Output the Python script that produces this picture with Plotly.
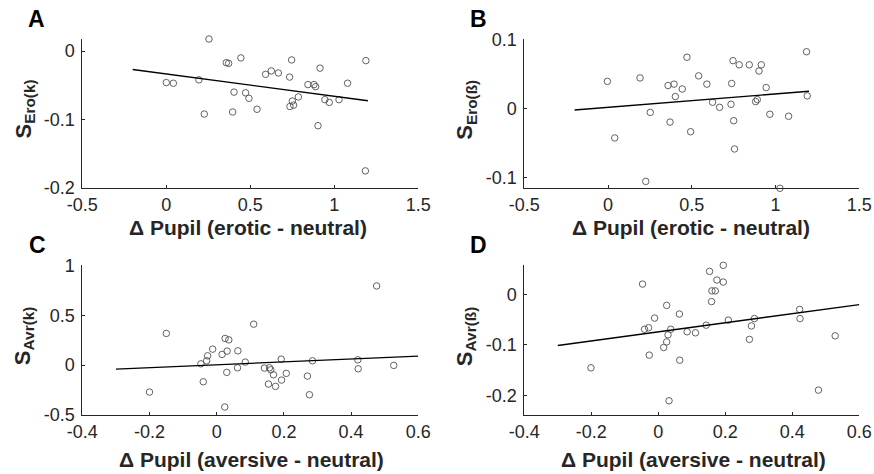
import plotly.graph_objects as go

W, H = 874, 474

# ---------------- data ----------------
a_x = [0.000, 0.042, 0.194, 0.226, 0.254, 0.357, 0.371, 0.395, 0.403, 0.444, 0.472, 0.492, 0.540,
       0.591, 0.625, 0.667, 0.734, 0.736, 0.746, 0.750, 0.758, 0.786, 0.843, 0.879, 0.889, 0.903,
       0.915, 0.944, 0.970, 1.028, 1.079, 1.185, 1.188]
a_y = [-0.046, -0.047, -0.042, -0.092, 0.0176, -0.017, -0.018, -0.089, -0.060, -0.010, -0.061, -0.069,
       -0.085, -0.034, -0.029, -0.032, -0.038, -0.081, -0.013, -0.073, -0.079, -0.067, -0.049, -0.049,
       -0.052, -0.109, -0.025, -0.071, -0.075, -0.071, -0.047, -0.175, -0.014]

b_x = [-0.004, 0.040, 0.191, 0.225, 0.252, 0.358, 0.370, 0.394, 0.402, 0.443, 0.471, 0.493, 0.541,
       0.590, 0.624, 0.666, 0.734, 0.738, 0.746, 0.750, 0.755, 0.783, 0.843, 0.881, 0.891, 0.901,
       0.915, 0.944, 0.966, 1.026, 1.078, 1.185, 1.189]
b_y = [0.039, -0.043, 0.044, -0.106, -0.006, 0.033, -0.020, 0.035, 0.017, 0.028, 0.074, -0.034, 0.047,
       0.035, 0.0087, 0.0014, 0.0058, 0.036, 0.069, -0.018, -0.059, 0.063, 0.063, 0.0097, 0.0126, 0.054,
       0.063, 0.030, -0.0087, -0.116, -0.0116, 0.082, 0.018]

c_x = [-0.200, -0.150, -0.047, -0.040, -0.030, -0.027, -0.012, 0.016, 0.025, 0.036, 0.031, 0.030,
       0.024, 0.063, 0.062, 0.085, 0.110, 0.142, 0.157, 0.161, 0.154, 0.169, 0.175, 0.193, 0.192,
       0.207, 0.270, 0.276, 0.285, 0.420, 0.421, 0.476, 0.527]
c_y = [-0.27, 0.317, 0.013, -0.167, 0.043, 0.093, 0.16, 0.107, 0.267, 0.253, 0.14, -0.073, -0.42,
       0.143, -0.027, 0.03, 0.41, -0.03, -0.027, -0.047, -0.19, -0.097, -0.213, -0.15, 0.06, -0.083,
       -0.11, -0.297, 0.043, 0.053, -0.037, 0.793, -0.003]

d_x = [-0.201, -0.150, -0.047, -0.041, -0.029, -0.027, -0.011, 0.016, 0.025, 0.025, 0.029, 0.032,
       0.037, 0.063, 0.064, 0.086, 0.111, 0.143, 0.153, 0.160, 0.170, 0.159, 0.175, 0.194, 0.194,
       0.209, 0.272, 0.278, 0.287, 0.422, 0.423, 0.478, 0.528]
d_y = [-0.145, -0.239, 0.020, -0.069, -0.066, -0.120, -0.047, -0.105, -0.022, -0.094, -0.080, -0.210,
       -0.069, -0.039, -0.130, -0.074, -0.076, -0.061, 0.045, 0.0066, 0.0066, -0.0145, 0.028, 0.057,
       0.024, -0.051, -0.089, -0.0625, -0.048, -0.030, -0.048, -0.189, -0.082]

# regression lines (end points)
a_fit_x = [-0.2, 1.2]
a_fit_y = [-0.027, -0.0725]
b_fit_x = [-0.2, 1.2]
b_fit_y = [-0.0024, 0.0246]
c_fit_x = [-0.3, 0.6]
c_fit_y = [-0.04, 0.09]
d_fit_x = [-0.3, 0.6]
d_fit_y = [-0.101, -0.0204]

# ticks
ero_xticks = [-0.5, 0, 0.5, 1, 1.5]
ero_xticklabels = ["-0.5", "0", "0.5", "1", "1.5"]
avr_xticks = [-0.4, -0.2, 0, 0.2, 0.4, 0.6]
avr_xticklabels = ["-0.4", "-0.2", "0", "0.2", "0.4", "0.6"]
a_yticks = [-0.2, -0.1, 0]
a_yticklabels = ["-0.2", "-0.1", "0"]
b_yticks = [-0.1, 0, 0.1]
b_yticklabels = ["-0.1", "0", "0.1"]
c_yticks = [-0.5, 0, 0.5, 1]
c_yticklabels = ["-0.5", "0", "0.5", "1"]
d_yticks = [-0.2, -0.1, 0]
d_yticklabels = ["-0.2", "-0.1", "0"]

ero_xlabel = "Δ Pupil (erotic - neutral)"
avr_xlabel = "Δ Pupil (aversive - neutral)"
ylabels = ["Ero(k)", "Ero(ß)", "Avr(k)", "Avr(ß)"]
letters = ["A", "B", "C", "D"]

# ---------------- layout helpers ----------------
def fx(px):
    return px / W

def fy(py):
    return 1 - py / H

FONT = "Liberation Sans, Arial, sans-serif"
AX_COL = "#262626"

# pixel boxes: (left, right, top, bottom)
boxes = [
    (82.3, 418.3, 39.0, 188.0),
    (524.3, 859.3, 39.3, 188.3),
    (82.3, 418.3, 265.3, 415.0),
    (524.3, 859.3, 265.3, 415.0),
]

panels = [
    (a_x, a_y, a_fit_x, a_fit_y, [-0.5, 1.5], [-0.2, 0.0176], ero_xticks, ero_xticklabels, a_yticks, a_yticklabels, ero_xlabel),
    (b_x, b_y, b_fit_x, b_fit_y, [-0.5, 1.5], [-0.116, 0.1], ero_xticks, ero_xticklabels, b_yticks, b_yticklabels, ero_xlabel),
    (c_x, c_y, c_fit_x, c_fit_y, [-0.4, 0.6], [-0.5, 1.0], avr_xticks, avr_xticklabels, c_yticks, c_yticklabels, avr_xlabel),
    (d_x, d_y, d_fit_x, d_fit_y, [-0.4, 0.6], [-0.238, 0.057], avr_xticks, avr_xticklabels, d_yticks, d_yticklabels, avr_xlabel),
]

fig = go.Figure()
layout = dict(
    width=W, height=H,
    margin=dict(l=0, r=0, t=0, b=0, pad=0),
    paper_bgcolor="white", plot_bgcolor="white",
    showlegend=False,
    font=dict(family=FONT, color=AX_COL),
)
annotations = []

letter_pos = [(36.5, 18.5), (478.5, 19.0), (37.0, 245.0), (478.5, 245.0)]
xlabel_pos = [(248.0, 227.0), (691.0, 227.0), (251.5, 459.0), (693.0, 459.0)]
ylabel_x = [24.0, 466.0, 24.0, 466.0]

for i, (px, py, fxs, fys, xr, yr, xt, xtl, yt, ytl, xlab) in enumerate(panels):
    n = "" if i == 0 else str(i + 1)
    xa, ya = "x" + n, "y" + n
    l, r, t, b = boxes[i]
    fig.add_trace(go.Scatter(
        x=px, y=py, mode="markers", xaxis=xa, yaxis=ya, cliponaxis=False,
        marker=dict(symbol="circle-open", size=6.5, color="#505050", line=dict(width=0.9, color="#505050")),
        hoverinfo="skip"))
    fig.add_trace(go.Scatter(
        x=fxs, y=fys, mode="lines", xaxis=xa, yaxis=ya, cliponaxis=False,
        line=dict(color="black", width=1.4), hoverinfo="skip"))
    common = dict(showgrid=False, zeroline=False, showline=True, linecolor=AX_COL, linewidth=1,
                  ticks="inside", ticklen=3, tickwidth=1, tickcolor=AX_COL, mirror=False,
                  automargin=False,
                  tickfont=dict(family=FONT, size=18, color=AX_COL), fixedrange=True)
    layout["xaxis" + n] = dict(common, domain=[fx(l), fx(r)], range=xr, anchor=ya,
                               tickmode="array", tickvals=xt, ticktext=xtl, ticklabelstandoff=0)
    layout["yaxis" + n] = dict(common, domain=[fy(b), fy(t)], range=yr, anchor=xa,
                               tickmode="array", tickvals=yt, ticktext=ytl, ticklabelstandoff=3)
    # panel letter
    annotations.append(dict(text="<b>%s</b>" % letters[i], x=fx(letter_pos[i][0]), y=fy(letter_pos[i][1]),
                            xref="paper", yref="paper", showarrow=False, xanchor="center", yanchor="middle",
                            font=dict(family=FONT, size=23, color="black")))
    # x label
    annotations.append(dict(text="<b>%s</b>" % xlab, x=fx(xlabel_pos[i][0]), y=fy(xlabel_pos[i][1]),
                            xref="paper", yref="paper", showarrow=False, xanchor="center", yanchor="middle",
                            font=dict(family=FONT, size=21, color=AX_COL)))
    # y label
    annotations.append(dict(text="<b>S<sub>%s</sub></b>" % ylabels[i], x=fx(ylabel_x[i]), y=fy((t + b) / 2 - 4),
                            xref="paper", yref="paper", showarrow=False, xanchor="center", yanchor="middle",
                            textangle=-90, font=dict(family=FONT, size=22, color=AX_COL)))

layout["annotations"] = annotations
fig.update_layout(**layout)
fig.write_html("out.html")
